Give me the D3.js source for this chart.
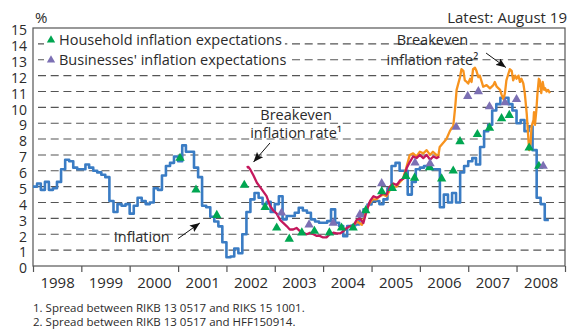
<!DOCTYPE html>
<html>
<head>
<meta charset="utf-8">
<script src="https://cdn.jsdelivr.net/npm/d3@7"></script>
<style>
  html, body { margin: 0; padding: 0; background: #fff; }
  svg { display: block; font-family: "Open Sans", "Noto Sans", sans-serif; }
</style>
</head>
<body>
<svg id="chart" width="568" height="332"></svg>
<script>
// ---- data -------------------------------------------------------------
// Twelve-month inflation, monthly from January 1998 to August 2008 (%)
const inflationStartYear = 1998;
const inflation = [
  5.0, 5.2, 4.8, 5.3, 4.8, 4.9, 5.3, 6.1, 6.7, 6.6, 6.2, 6.1,   // 1998
  6.1, 6.4, 6.2, 6.0, 5.9, 5.75, 5.6, 4.1, 3.4, 3.9, 3.8, 3.9,  // 1999
  3.3, 3.8, 4.3, 4.1, 3.9, 4.0, 4.9, 4.8, 5.7, 6.3, 6.5, 6.9,   // 2000
  6.6, 7.6, 7.2, 7.2, 6.2, 5.6, 3.8, 3.7, 3.1, 2.8, 2.5, 1.5,   // 2001
  0.55, 0.6, 1.1, 0.8, 2.0, 3.4, 4.2, 4.6, 4.3, 3.9, 4.05, 3.4, // 2002
  3.9, 4.4, 2.94, 3.15, 3.15, 3.36, 3.67, 3.5, 3.36, 2.94, 2.8, 2.73, // 2003
  2.73, 2.83, 3.57, 2.73, 2.52, 1.88, 2.52, 2.55, 2.62, 3.15, 3.57, 3.88, // 2004
  4.1, 4.1, 3.9, 4.2, 4.9, 6.3, 6.5, 6.0, 6.0, 4.5, 5.3, 6.1,   // 2005
  6.2, 6.3, 6.2, 6.1, 6.1, 3.7, 4.5, 4.0, 4.6, 4.0, 5.9, 6.3,   // 2006
  6.6, 6.8, 6.4, 7.5, 8.5, 8.9, 9.8, 10.2, 10.6, 10.6, 10.2, 9.8, // 2007
  9.0, 9.2, 8.5, 8.8, 7.3, 4.3, 3.9, 2.9                        // 2008
];

// Breakeven inflation rate 1 (spread RIKB 13 0517 / RIKS 15 1001), decimal years
const breakeven1Years = [
  2002.42, 2002.45, 2002.49, 2002.56, 2002.63, 2002.69, 2002.76, 2002.83, 2002.90, 2002.97,
  2003.04, 2003.11, 2003.18, 2003.25, 2003.31, 2003.38, 2003.45, 2003.52, 2003.59, 2003.66,
  2003.73, 2003.80, 2003.87, 2003.93,
  2004.00, 2004.07, 2004.14, 2004.21, 2004.28, 2004.35, 2004.42, 2004.49, 2004.55, 2004.62,
  2004.69, 2004.76, 2004.83, 2004.90, 2004.97,
  2005.04, 2005.11, 2005.17, 2005.24, 2005.31, 2005.38, 2005.45, 2005.52, 2005.59, 2005.66,
  2005.73, 2005.80, 2005.86, 2005.93,
  2006.00, 2006.07, 2006.14, 2006.21, 2006.28, 2006.35, 2006.40
];
const breakeven1Values = [
  6.2, 6.25, 6.1, 5.7, 5.25, 5.0, 4.7, 4.4, 3.8, 3.5,
  3.3, 2.9, 2.7, 2.5, 2.3, 2.3, 2.4, 2.2, 2.1, 2.0,
  2.1, 2.0, 1.9, 1.9,
  1.8, 1.8, 2.0, 2.1, 2.05, 2.05, 2.2, 2.4, 2.5, 2.5,
  2.9, 3.0, 2.7, 3.5, 4.1,
  4.4, 4.3, 4.4, 4.6, 4.5, 5.0, 5.2, 5.1, 5.4, 5.5,
  6.2, 6.6, 6.9, 6.8,
  7.0, 6.8, 7.0, 6.7, 6.9, 6.8, 6.9
];

// Breakeven inflation rate 2 (spread RIKB 13 0517 / HFF150914), decimal years
const breakeven2Years = [
  2004.60, 2004.70, 2004.80, 2004.87, 2004.95, 2005.02, 2005.10,
  2005.17, 2005.24, 2005.31, 2005.38, 2005.45, 2005.52, 2005.59, 2005.65, 2005.72, 2005.79,
  2005.86, 2005.93, 2006.00, 2006.07, 2006.14, 2006.21, 2006.27, 2006.34, 2006.38, 2006.41,
  2006.48, 2006.55, 2006.62, 2006.66, 2006.69, 2006.73, 2006.76, 2006.83, 2006.86, 2006.90,
  2006.93, 2006.97, 2007.00,
  2007.04, 2007.07, 2007.10, 2007.14, 2007.17, 2007.21, 2007.24, 2007.28, 2007.31, 2007.38,
  2007.45, 2007.52, 2007.55, 2007.59, 2007.66, 2007.69, 2007.73, 2007.76, 2007.79, 2007.83,
  2007.86, 2007.90, 2007.93, 2007.97,
  2008.00, 2008.04, 2008.07, 2008.10, 2008.14, 2008.17, 2008.21, 2008.24, 2008.26, 2008.29,
  2008.31, 2008.35, 2008.36, 2008.38, 2008.41, 2008.43, 2008.46, 2008.48, 2008.51, 2008.54,
  2008.57, 2008.59, 2008.62, 2008.65, 2008.69
];
const breakeven2Values = [
  2.5, 2.8, 2.6, 3.3, 3.9, 4.2, 4.2,
  4.4, 4.5, 4.4, 4.8, 5.0, 5.0, 5.3, 5.5, 6.2, 7.0,
  7.1, 6.9, 7.2, 7.1, 7.3, 7.0, 7.2, 7.0, 6.9, 7.5,
  7.75, 8.0, 8.5, 8.7, 8.8, 10.0, 11.1, 11.9, 12.4, 12.3,
  11.7, 11.6, 11.5,
  11.8, 11.6, 12.4, 12.5, 12.3, 11.9, 12.0, 11.6, 11.3, 11.4,
  11.2, 11.4, 11.6, 11.3, 11.1, 10.8, 10.5, 10.9, 11.7, 12.1,
  12.4, 12.3, 11.7, 12.0,
  11.8, 12.0, 11.6, 11.8, 11.5, 10.9, 9.6, 8.2, 7.3, 7.75,
  8.8, 9.2, 9.7, 8.9, 9.85, 10.8, 11.8, 11.7, 10.9, 11.6,
  11.1, 11.2, 11.0, 11.1, 10.9
];

// Household inflation expectations (survey dates as decimal years, %)
const householdYears = [
  2001.04, 2001.37, 2001.80, 2002.37, 2002.80, 2003.04, 2003.30, 2003.56, 2003.82,
  2004.13, 2004.38, 2004.62, 2004.88, 2005.21, 2005.43, 2005.71, 2005.89, 2006.20,
  2006.45, 2006.69, 2006.83, 2007.19, 2007.44, 2007.69, 2007.85, 2008.26, 2008.46
];
const householdValues = [
  6.8, 4.8, 3.2, 5.1, 3.7, 2.4, 1.7, 2.1, 2.2,
  2.1, 2.4, 2.4, 3.5, 4.7, 4.9, 5.65, 5.55, 6.2,
  5.5, 6.0, 7.85, 8.3, 8.7, 9.3, 9.5, 7.45, 6.3
];

// Businesses' inflation expectations (survey dates as decimal years, %)
const businessYears = [
  2003.14, 2003.71, 2004.21, 2004.76, 2005.21, 2005.90, 2006.21,
  2006.75, 2006.99, 2007.21, 2007.44, 2007.76, 2008.00, 2008.55
];
const businessValues = [
  3.35, 2.6, 2.7, 3.25, 5.2, 6.5, 6.45,
  8.75, 10.7, 11.0, 10.05, 10.3, 10.5, 6.3
];

const yearLabels = [1998, 1999, 2000, 2001, 2002, 2003, 2004, 2005, 2006, 2007, 2008];
const yTickValues = [0, 1, 2, 3, 4, 5, 6, 7, 8, 9, 10, 11, 12, 13, 14, 15];

const legendLabels = ["Household inflation expectations", "Businesses' inflation expectations"];
const footnotes = [
  "1. Spread between RIKB 13 0517 and RIKS 15 1001.",
  "2. Spread between RIKB 13 0517 and HFF150914."
];

// ---- helpers ----------------------------------------------------------
function fromDecimalYear(t) {
  const yr = Math.floor(t);
  const start = new Date(yr, 0, 1).getTime();
  const end = new Date(yr + 1, 0, 1).getTime();
  return new Date(start + (t - yr) * (end - start));
}

const colors = {
  inflation: "#3a7cc4",
  breakeven1: "#c4185c",
  breakeven2: "#f7931e",
  household: "#00a651",
  business: "#7c70b4",
  grid: "#555",
  frame: "#555",
  text: "#2b2b2b"
};

// ---- layout -----------------------------------------------------------
const svg = d3.select("#chart");
const plot = { left: 33, right: 565, top: 28, bottom: 266 };

const x = d3.scaleTime()
  .domain([new Date(1998, 0, 1), new Date(2009, 0, 1)])
  .range([plot.left, plot.right]);
const y = d3.scaleLinear()
  .domain([0, 15])
  .range([plot.bottom, plot.top]);

// dashed horizontal gridlines
svg.append("g")
  .selectAll("line")
  .data(yTickValues.filter(v => v > 0 && v < 15))
  .join("line")
  .attr("x1", plot.left + 5)
  .attr("x2", plot.right)
  .attr("y1", d => y(d))
  .attr("y2", d => y(d))
  .attr("stroke", colors.grid)
  .attr("stroke-width", 1.1)
  .attr("stroke-dasharray", "8,4.7");

// frame
svg.append("rect")
  .attr("x", plot.left)
  .attr("y", plot.top)
  .attr("width", plot.right - plot.left)
  .attr("height", plot.bottom - plot.top)
  .attr("fill", "none")
  .attr("stroke", colors.frame)
  .attr("stroke-width", 1.2);

// x axis: year boundary ticks, labels centred in each year
const yearBounds = d3.range(1998, 2010).map(yr => new Date(yr, 0, 1));
const xTicks = svg.append("g")
  .attr("transform", `translate(0,${plot.bottom})`)
  .call(d3.axisBottom(x).tickValues(yearBounds).tickSize(6).tickFormat(""));
xTicks.select(".domain").remove();
xTicks.selectAll("line").attr("stroke", colors.frame).attr("stroke-width", 1.2);

const xLabels = svg.append("g")
  .attr("transform", `translate(0,${plot.bottom})`)
  .call(d3.axisBottom(x)
    .tickValues(yearLabels.map(yr => new Date(yr, 6, 2)))
    .tickSize(0)
    .tickPadding(11)
    .tickFormat(d3.timeFormat("%Y")));
xLabels.select(".domain").remove();
xLabels.selectAll("text")
  .attr("font-size", 15)
  .attr("font-family", "Open Sans")
  .attr("fill", colors.text);

// y axis labels
const yAxis = svg.append("g")
  .attr("transform", `translate(${plot.left},0)`)
  .call(d3.axisLeft(y).tickValues(yTickValues).tickSize(0).tickPadding(6));
yAxis.select(".domain").remove();
yAxis.selectAll("text")
  .attr("font-size", 14)
  .attr("font-family", "Open Sans")
  .attr("dy", "0.48em")
  .attr("fill", colors.text);

// ---- series -----------------------------------------------------------
const inflationPoints = inflation.map((v, i) => ({ date: new Date(inflationStartYear, i, 1), value: v }));
// the last monthly value holds until the end of its month
inflationPoints.push({
  date: new Date(inflationStartYear, inflation.length, 1),
  value: inflation[inflation.length - 1]
});

const stepLine = d3.line()
  .x(d => x(d.date))
  .y(d => y(d.value))
  .curve(d3.curveStepAfter);

const plainLine = d3.line()
  .x(d => x(d.date))
  .y(d => y(d.value));

const toPoints = (years, values) => years.map((t, i) => ({ date: fromDecimalYear(t), value: values[i] }));

svg.append("path")
  .datum(inflationPoints)
  .attr("d", stepLine)
  .attr("fill", "none")
  .attr("stroke", colors.inflation)
  .attr("stroke-width", 2.6)
  .attr("stroke-linejoin", "round");

svg.append("path")
  .datum(toPoints(breakeven2Years, breakeven2Values))
  .attr("d", plainLine)
  .attr("fill", "none")
  .attr("stroke", colors.breakeven2)
  .attr("stroke-width", 2.3)
  .attr("stroke-linejoin", "round");

svg.append("path")
  .datum(toPoints(breakeven1Years, breakeven1Values))
  .attr("d", plainLine)
  .attr("fill", "none")
  .attr("stroke", colors.breakeven1)
  .attr("stroke-width", 2.3)
  .attr("stroke-linejoin", "round");

const triangle = d3.symbol().type(d3.symbolTriangle).size(38);

svg.append("g")
  .selectAll("path")
  .data(toPoints(householdYears, householdValues))
  .join("path")
  .attr("d", triangle)
  .attr("transform", d => `translate(${x(d.date)},${y(d.value)})`)
  .attr("fill", colors.household);

svg.append("g")
  .selectAll("path")
  .data(toPoints(businessYears, businessValues))
  .join("path")
  .attr("d", triangle)
  .attr("transform", d => `translate(${x(d.date)},${y(d.value)})`)
  .attr("fill", colors.business);

// ---- legend -----------------------------------------------------------
const legend = svg.append("g");
const legendColors = [colors.household, colors.business];
legendLabels.forEach((label, i) => {
  const row = legend.append("g").attr("transform", `translate(0,${45 + i * 20})`);
  const txt = row.append("text")
    .attr("x", 59)
    .attr("y", 0)
    .attr("font-size", 14.5)
    .attr("fill", colors.text)
    .text(label);
  const w = txt.node().getComputedTextLength();
  row.insert("rect", "text")
    .attr("x", 44)
    .attr("y", -13)
    .attr("width", 59 + w + 3 - 44)
    .attr("height", 17)
    .attr("fill", "#fff");
  row.append("path")
    .attr("d", d3.symbol().type(d3.symbolTriangle).size(30))
    .attr("transform", "translate(51,-5)")
    .attr("fill", legendColors[i]);
});

// ---- annotations ------------------------------------------------------
svg.append("defs").append("marker")
  .attr("id", "arrowhead")
  .attr("viewBox", "0 0 10 8")
  .attr("refX", 10)
  .attr("refY", 4)
  .attr("markerWidth", 10)
  .attr("markerHeight", 8)
  .attr("markerUnits", "userSpaceOnUse")
  .attr("orient", "auto")
  .append("path")
  .attr("d", "M0,0 L10,4 L0,8 L2,4 Z")
  .attr("fill", "#111");

const arrows = [
  { from: [2002.90, 7.75], to: [2002.56, 6.55] },
  { from: [2007.37, 13.42], to: [2007.78, 12.51] },
  { from: [2001.00, 1.73], to: [2001.45, 2.71] }
];
svg.append("g")
  .selectAll("line")
  .data(arrows)
  .join("line")
  .attr("x1", d => x(fromDecimalYear(d.from[0])))
  .attr("y1", d => y(d.from[1]))
  .attr("x2", d => x(fromDecimalYear(d.to[0])))
  .attr("y2", d => y(d.to[1]))
  .attr("stroke", "#111")
  .attr("stroke-width", 1)
  .attr("marker-end", "url(#arrowhead)");

const notes = [
  { t: 2003.44, v: 9.2, text: "Breakeven" },
  { t: 2003.44, v: 8.07, text: "inflation rate\u00B9" },
  { t: 2006.26, v: 13.93, text: "Breakeven" },
  { t: 2006.26, v: 12.67, text: "inflation rate\u00B2" },
  { t: 2000.25, v: 1.51, text: "Inflation" }
];
svg.append("g")
  .selectAll("text")
  .data(notes)
  .join("text")
  .attr("x", d => x(fromDecimalYear(d.t)))
  .attr("y", d => y(d.v))
  .attr("text-anchor", "middle")
  .attr("font-size", 14.5)
  .attr("fill", colors.text)
  .text(d => d.text);

// ---- titles and footnotes --------------------------------------------
svg.append("text")
  .attr("x", 35)
  .attr("y", 23)
  .attr("font-size", 15)
  .attr("fill", colors.text)
  .text("%");

svg.append("text")
  .attr("x", 567)
  .attr("y", 23)
  .attr("text-anchor", "end")
  .attr("font-size", 15)
  .attr("fill", colors.text)
  .text("Latest: August 19");

svg.append("g")
  .selectAll("text")
  .data(footnotes)
  .join("text")
  .attr("x", 33)
  .attr("y", (d, i) => 312 + i * 14)
  .attr("font-size", 11.5)
  .attr("fill", colors.text)
  .text(d => d);
</script>
</body>
</html>
